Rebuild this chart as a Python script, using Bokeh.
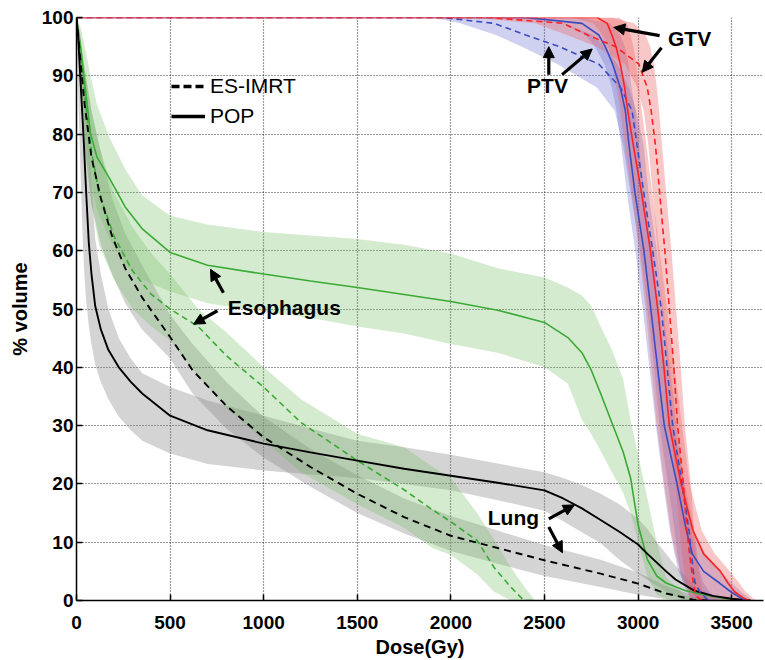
from bokeh.plotting import figure
from bokeh.models import (Range1d, FixedTicker, Legend, LegendItem,
                          Label, Arrow, NormalHead)
from bokeh.embed import file_html
from bokeh.resources import INLINE

# ---------------- data ----------------
# Lung (dose grid, mean / upper / lower % volume)
lung_pop_dose = [0, 10, 20, 30, 40, 50, 66, 80, 100, 130, 170, 226, 290, 351, 500, 700, 1000,
                 1250, 1500, 1750, 2000, 2250, 2500, 2600, 2700, 2800, 2900, 3000, 3050, 3100,
                 3150, 3200, 3300, 3400, 3500, 3600]
lung_pop_mean = [100, 96, 90, 84, 78, 71, 61.2, 56, 50.5, 46.5, 43, 40, 37.5, 35.5, 31.7, 29.2,
                 26.9, 25.4, 24, 22.6, 21.4, 20.2, 18.9, 17.5, 15.8, 13.8, 11.8, 9.6, 8.0, 6.5,
                 5.0, 3.6, 1.7, 0.8, 0.3, 0]
lung_pop_hi = [100, 99, 97, 94, 90, 86, 80, 72, 62, 56, 50, 45, 41.5, 39, 36.6, 34.3,
               31.7, 29.5, 27.4, 26.3, 25, 23.5, 22, 21, 19.8, 18.3, 16.5, 14, 12.3, 10,
               8, 6, 2.5, 0.8, 0.2, 0]
lung_pop_lo = [100, 86, 75, 65, 57, 52, 47, 44, 40.5, 37.5, 34.5, 31.5, 29.2, 27.4, 25.2, 23.4,
               22.3, 21.6, 21, 20, 18.9, 17.2, 15.4, 13.6, 11.7, 9.8, 7, 4.6, 3.5, 2.5,
               1.5, 0.7, 0, 0, 0, 0]

lung_imrt_dose = [0, 20, 40, 80, 130, 190, 260, 350, 500, 620, 800, 1000, 1250, 1500, 1750,
                  2000, 2250, 2500, 2800, 3000, 3150, 3300, 3400]
lung_imrt_mean = [100, 93, 86, 76, 69, 62.5, 57, 52, 45.2, 39.5, 33.4, 28, 22.9, 18.3, 14.3,
                  11.1, 9, 6.9, 4.6, 2.9, 1.2, 0.1, 0]
lung_imrt_hi = [100, 97, 92, 84, 77, 69, 63, 57.5, 49, 44, 37.5, 31.5, 26, 21.5, 17.5,
                14.5, 12, 9.5, 7, 4.8, 2.5, 0.8, 0]
lung_imrt_lo = [100, 88, 79, 68, 61, 56, 51, 46.5, 41.5, 35.5, 29.5, 24.5, 19.5, 15, 11.5,
                8.5, 6.3, 4.2, 2.3, 1, 0.2, 0, 0]

# Esophagus
eso_pop_dose = [0, 25, 50, 75, 110, 175, 260, 350, 500, 700, 1000, 1250, 1500, 1750, 2000,
                2250, 2500, 2625, 2700, 2750, 2800, 2860, 2920, 2960, 3000, 3050, 3100, 3150,
                3250, 3350, 3450, 3550]
eso_pop_mean = [100, 94, 87, 80, 76, 72.5, 67.5, 63.8, 59.7, 57.5, 56, 54.8, 53.7, 52.5, 51.3,
                49.8, 47.7, 45.1, 42.5, 39.5, 35.5, 30.5, 25.5, 21, 13, 7, 4.2, 3,
                1.7, 1, 0.4, 0]
eso_pop_hi = [100, 98, 94, 90, 85, 79.5, 74, 69.5, 66, 64.5, 63.2, 62.6, 62, 61, 59.5,
              57, 55.4, 53.7, 52.3, 50.5, 47, 43, 38, 31, 25, 17.5, 10, 4,
              0.8, 0.3, 0, 0]
eso_pop_lo = [100, 90, 80, 72, 67, 62, 57.5, 55, 53, 51, 49.5, 48.5, 47, 45.8, 44,
              42.5, 40, 37.2, 31, 28.5, 25.7, 22, 18.5, 15, 10, 4, 1, 0.3,
              0, 0, 0, 0]

eso_imrt_dose = [0, 25, 50, 80, 120, 200, 300, 400, 500, 650, 800, 1000, 1200, 1500, 1750,
                 1900, 2000, 2140, 2230, 2320, 2390, 2450]
eso_imrt_mean = [100, 92, 85, 77, 70, 62.5, 56.5, 52.5, 50, 47, 42, 36.6, 30.5, 24, 19,
                 15.6, 13.5, 10.3, 5.7, 2.3, 0, 0]
eso_imrt_hi = [100, 95, 90, 84, 78, 70, 64, 59.5, 56, 50, 46, 40, 34.5, 28.6, 26.3,
               23, 21, 15, 10.5, 5.7, 2.5, 0]
eso_imrt_lo = [100, 85, 76, 68, 61, 55, 50, 47, 44.6, 38.5, 33, 27.4, 22, 16.5, 12.5,
               9, 7.8, 4.5, 1.5, 0, 0, 0]

# PTV / GTV (volume grid, dose mean / low / high)
steep_vol = [100, 100, 99, 97, 95, 92, 88, 84, 78, 70, 60, 50, 40, 30, 20, 12, 8, 5, 3, 1.5, 0.5, 0]

ptv_pop_mean = [0, 2400, 2700, 2790, 2825, 2864, 2905, 2932, 2952, 2983, 3031, 3068, 3104, 3140,
                3208, 3258, 3290, 3350, 3435, 3495, 3545, 3575]
ptv_pop_lo = [0, 2300, 2600, 2720, 2770, 2820, 2860, 2885, 2910, 2940, 2985, 3025, 3060, 3095,
              3135, 3170, 3195, 3215, 3245, 3280, 3310, 3330]
ptv_pop_hi = [0, 2700, 2850, 2905, 2930, 2950, 2965, 2985, 3005, 3030, 3075, 3115, 3150, 3190,
              3250, 3300, 3360, 3440, 3500, 3550, 3590, 3610]

ptv_imrt_mean = [0, 1950, 2230, 2400, 2580, 2790, 2906, 2968, 2995, 3030, 3078, 3124, 3155, 3185,
                 3235, 3272, 3285, 3295, 3305, 3330, 3360, 3380]
ptv_imrt_lo = [0, 1900, 2050, 2240, 2380, 2570, 2780, 2875, 2920, 2960, 3010, 3050, 3085, 3115,
               3160, 3195, 3210, 3225, 3240, 3260, 3280, 3290]
ptv_imrt_hi = [0, 2400, 2600, 2760, 2820, 2890, 2950, 2990, 3030, 3055, 3100, 3135, 3170, 3205,
               3245, 3285, 3310, 3330, 3350, 3380, 3410, 3430]

gtv_pop_mean = [0, 2781, 2835, 2860, 2882, 2905, 2928, 2945, 2975, 3018, 3066, 3105, 3138, 3167,
                3230, 3293, 3350, 3440, 3480, 3515, 3560, 3590]
gtv_pop_lo = [0, 2650, 2760, 2810, 2840, 2865, 2885, 2905, 2930, 2965, 3005, 3040, 3070, 3100,
              3140, 3175, 3200, 3225, 3250, 3280, 3310, 3330]
gtv_pop_hi = [0, 2900, 2940, 2960, 2975, 2990, 3005, 3020, 3045, 3075, 3115, 3155, 3195, 3235,
              3275, 3340, 3410, 3490, 3540, 3575, 3610, 3630]

gtv_imrt_mean = [0, 2200, 2600, 2730, 2880, 3004, 3049, 3070, 3093, 3115, 3143, 3167, 3191, 3211,
                 3242, 3261, 3275, 3287, 3295, 3305, 3320, 3340]
gtv_imrt_lo = [0, 2100, 2450, 2620, 2780, 2930, 2995, 3030, 3055, 3078, 3105, 3130, 3155, 3175,
               3200, 3222, 3235, 3247, 3257, 3265, 3275, 3285]
gtv_imrt_hi = [0, 2850, 2980, 3040, 3065, 3084, 3100, 3112, 3128, 3150, 3178, 3203, 3228, 3250,
               3282, 3300, 3315, 3325, 3335, 3345, 3360, 3375]

x_ticks = [0, 500, 1000, 1500, 2000, 2500, 3000, 3500]
y_ticks = [0, 10, 20, 30, 40, 50, 60, 70, 80, 90, 100]
legend_labels = ["ES-IMRT", "POP"]

# ---------------- styles ----------------
FONT = "Liberation Sans"
BLACK = "#000000"
GREEN = "#3aaa35"
BLUE = "#3b4cc0"
RED = "#ff2020"
GRAY_FILL, GRAY_A = "#848484", 0.35
GREEN_FILL, GREEN_A = "#73bc62", 0.30
BLUE_FILL, BLUE_A = "#6262cd", 0.30
RED_FILL, RED_A = "#eb6262", 0.35
DASH = "6 4"
NAN = float("nan")

p = figure(width=765, height=660, output_backend="svg", toolbar_location=None,
           x_range=Range1d(0, 3670), y_range=Range1d(0, 100),
           min_border_left=76, min_border_right=2, min_border_top=17, min_border_bottom=60)
p.outline_line_color = None
p.background_fill_color = "white"

# grids
p.xgrid.ticker = FixedTicker(ticks=x_ticks)
p.ygrid.ticker = FixedTicker(ticks=y_ticks)
for g in (p.xgrid, p.ygrid):
    g.grid_line_color = "#000000"
    g.grid_line_dash = "1 2"
    g.grid_line_width = 1.2
    g.grid_line_alpha = 0.8

# axes
for ax, tk in ((p.xaxis[0], x_ticks), (p.yaxis[0], y_ticks)):
    ax.ticker = FixedTicker(ticks=tk)
    ax.axis_line_color = BLACK
    ax.axis_line_width = 1.5
    ax.major_tick_in = 6
    ax.major_tick_out = 0
    ax.major_tick_line_width = 1.5
    ax.minor_tick_line_color = None
    ax.major_label_text_font = FONT
    ax.major_label_text_font_style = "bold"
    ax.major_label_text_font_size = "19px"
    ax.major_label_text_color = BLACK
    ax.axis_label_text_font = FONT
    ax.axis_label_text_font_style = "bold"
    ax.axis_label_text_font_size = "20px"
    ax.axis_label_text_color = BLACK
p.xaxis[0].axis_label = "Dose(Gy)"
p.yaxis[0].axis_label = "% volume"
p.xaxis[0].major_label_standoff = 15
p.xaxis[0].axis_label_standoff = 4
p.yaxis[0].major_label_standoff = 3
p.yaxis[0].axis_label_standoff = 8

# bands
p.varea(x=lung_pop_dose, y1=lung_pop_lo, y2=lung_pop_hi, fill_color=GRAY_FILL, fill_alpha=GRAY_A)
p.varea(x=lung_imrt_dose, y1=lung_imrt_lo, y2=lung_imrt_hi, fill_color=GRAY_FILL, fill_alpha=GRAY_A)
p.varea(x=eso_pop_dose, y1=eso_pop_lo, y2=eso_pop_hi, fill_color=GREEN_FILL, fill_alpha=GREEN_A)
p.varea(x=eso_imrt_dose, y1=eso_imrt_lo, y2=eso_imrt_hi, fill_color=GREEN_FILL, fill_alpha=GREEN_A)
p.harea(y=steep_vol, x1=ptv_pop_lo, x2=ptv_pop_hi, fill_color=BLUE_FILL, fill_alpha=BLUE_A)
p.harea(y=steep_vol, x1=ptv_imrt_lo, x2=ptv_imrt_hi, fill_color=BLUE_FILL, fill_alpha=BLUE_A)
p.harea(y=steep_vol, x1=gtv_pop_lo, x2=gtv_pop_hi, fill_color=RED_FILL, fill_alpha=RED_A)
p.harea(y=steep_vol, x1=gtv_imrt_lo, x2=gtv_imrt_hi, fill_color=RED_FILL, fill_alpha=RED_A)

# mean lines
p.line(eso_pop_dose, eso_pop_mean, line_color=GREEN, line_width=1.6)
p.line(eso_imrt_dose, eso_imrt_mean, line_color=GREEN, line_width=1.6, line_dash=DASH)
p.line(lung_pop_dose, lung_pop_mean, line_color=BLACK, line_width=1.9)
p.line(lung_imrt_dose, lung_imrt_mean, line_color=BLACK, line_width=1.9, line_dash="7 5")
p.line(ptv_pop_mean, steep_vol, line_color=BLUE, line_width=1.6)
p.line(ptv_imrt_mean, steep_vol, line_color=BLUE, line_width=1.6, line_dash=DASH)
p.line(gtv_pop_mean, steep_vol, line_color=RED, line_width=1.6)
p.line(gtv_imrt_mean, steep_vol, line_color=RED, line_width=1.6, line_dash=DASH)

# legend (proxy renderers that draw nothing in the plot)
r_dash = p.line([NAN, NAN], [NAN, NAN], line_color=BLACK, line_width=3.5, line_dash="8 4")
r_solid = p.line([NAN, NAN], [NAN, NAN], line_color=BLACK, line_width=3.5)
legend = Legend(items=[LegendItem(label=legend_labels[0], renderers=[r_dash]),
                       LegendItem(label=legend_labels[1], renderers=[r_solid])],
                location=(95, 472), glyph_width=34, glyph_height=20, label_height=20,
                label_standoff=5, spacing=6, padding=0, margin=0,
                label_text_font=FONT, label_text_font_size="21px", label_text_color=BLACK,
                background_fill_alpha=0, border_line_alpha=0)
p.add_layout(legend)

# annotations
def lab(x, y, t):
    p.add_layout(Label(x=x, y=y, text=t, text_font=FONT, text_font_style="bold",
                       text_font_size="21px", text_align="center", text_baseline="middle",
                       text_color=BLACK))

def arr(x0, y0, x1, y1):
    p.add_layout(Arrow(x_start=x0, y_start=y0, x_end=x1, y_end=y1, line_width=3.2,
                       line_color=BLACK,
                       end=NormalHead(size=11, fill_color=BLACK, line_color=BLACK)))

lab(3275, 96.4, "GTV")
arr(3115, 96.9, 2870, 98.3)
arr(3125, 94.8, 3022, 90.6)
lab(2516, 88.3, "PTV")
arr(2523, 90.2, 2523, 95.0)
arr(2594, 90.2, 2755, 94.6)
lab(1110, 50.3, "Esophagus")
arr(785, 52.8, 716, 56.8)
arr(753, 49.7, 625, 47.4)
lab(2334, 14.2, "Lung")
arr(2523, 14.0, 2660, 16.4)
arr(2523, 12.6, 2596, 8.2)

open("out.html", "w").write(file_html(p, INLINE))
